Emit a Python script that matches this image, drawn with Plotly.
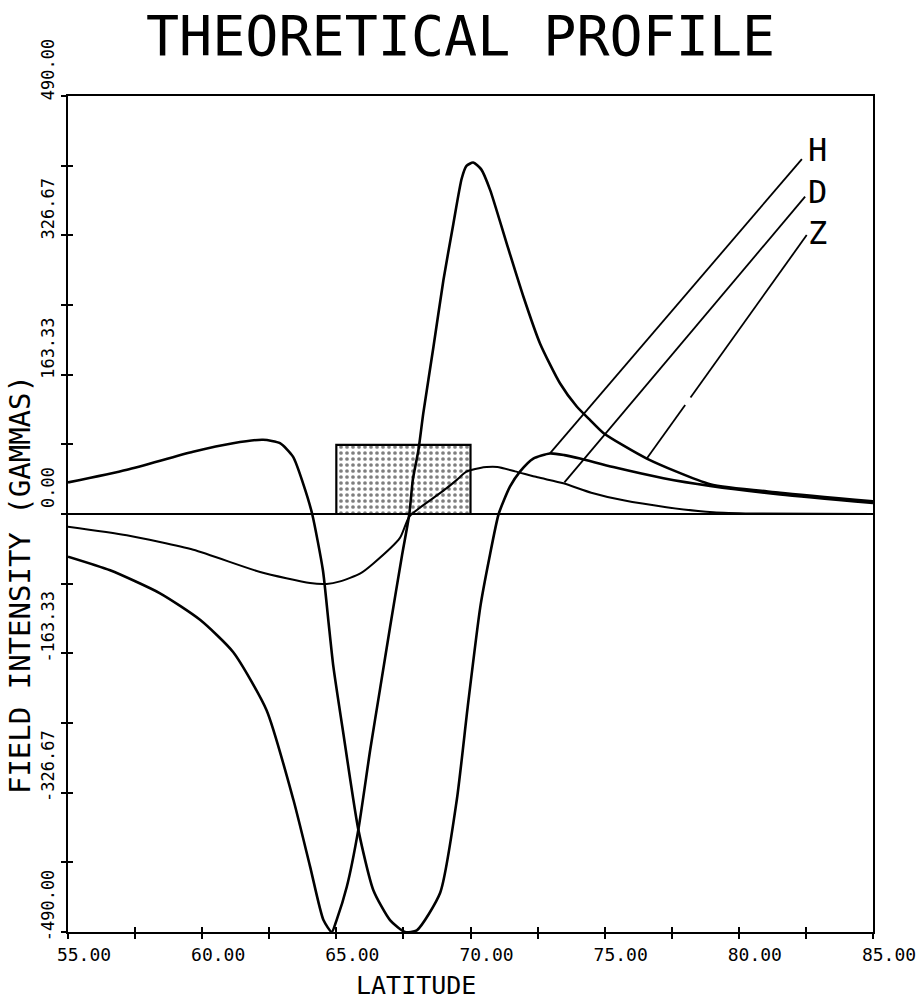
import plotly.graph_objects as go

# ---------------- data ----------------
# Z component (large positive peak near 70 deg)
lat_z = [55.0, 56.57, 58.43, 59.92, 61.16, 62.4, 63.4, 64.02, 64.52, 64.83, 65.01, 65.39,
         65.82, 66.26, 66.63, 67.0, 67.45, 67.72, 67.85, 68.06, 68.24, 68.62, 68.99, 69.36,
         69.67, 69.85, 70.1, 70.4, 70.73, 71.35, 71.97, 72.59, 73.34, 73.96, 74.46, 74.95,
         76.57, 78.93, 81.54, 85.0]
field_z = [-50, -66, -93, -124, -162, -230, -335, -413, -476, -490, -476, -437,
           -370, -277, -205, -133, -48, 0, 40, 75, 118, 196, 274, 340,
           393, 408, 412, 404, 380, 317, 255, 200, 153, 126, 110, 95,
           65, 35, 25, 15]

# H component (deep trough near 67.5 deg)
lat_h = [55.0, 57.2, 59.66, 61.15, 62.27, 62.9, 63.39, 63.76, 64.1, 64.5, 64.7, 64.89,
         65.26, 65.82, 66.38, 67.0, 67.56, 68.0, 68.87, 69.49, 69.9, 70.36, 70.7, 71.05,
         71.47, 71.85, 72.34, 72.96, 73.5, 74.08, 75.32, 77.19, 78.93, 81.54, 85.0]
field_h = [37, 52, 73, 83, 87, 83, 67, 36, 0, -66, -124, -179,
           -257, -370, -441, -476, -490, -488, -444, -335, -225, -110, -52, 0,
           32, 50, 65, 71, 69, 65, 55, 42, 33, 23, 13]

# D component (small amplitude)
lat_d = [55.0, 57.19, 59.67, 62.16, 64.02, 64.64, 65.14, 65.88, 66.38, 67.37, 67.72, 68.49,
         69.1, 69.49, 69.86, 70.36, 70.6, 71.0, 71.66, 72.5, 73.46, 74.5, 75.7, 77.3,
         79.05, 80.5, 85.0]
field_d = [-15, -25, -42, -68, -81, -82, -79, -70, -58, -28, -3, 16,
           30, 40, 50, 54, 55, 55, 50, 43, 36, 25, 16, 8,
           2, 0.5, 0]

# Source block (shaded rectangle)
block_lat = [65.0, 70.0]
block_top = 81

# Curve labels and their leader lines (label end -> curve end)
curve_labels = ["H", "D", "Z"]
label_lat = 82.95
label_field = 378
leader_labels = ["H", "D", "Z"]
leader_lat_start = [82.35, 82.47, 82.53]
leader_field_start = [416, 372, 327]
leader_lat_end = [72.96, 73.5, 76.57]
leader_field_end = [71, 37, 65]
z_leader_gap = [78.2, 78.0]   # small gap in the Z leader

# Axes
x_range = [55, 85]
y_range = [-490, 490]
x_tick_vals = [55, 60, 65, 70, 75, 80, 85]
x_tick_text = ["55.00", "60.00", "65.00", "70.00", "75.00", "80.00", "85.00"]
y_tick_vals = [-490, -326.67, -163.33, 0, 163.33, 326.67, 490]
y_tick_text = ["-490.00", "-326.67", "-163.33", "0.00", "163.33", "326.67", "490.00"]

# ---------------- figure ----------------
MONO = "DejaVu Sans Mono, Liberation Mono, monospace"
INK = "black"

fig = go.Figure()

# shaded block
bx = [block_lat[0], block_lat[1], block_lat[1], block_lat[0], block_lat[0]]
by = [0, 0, block_top, block_top, 0]
fig.add_trace(go.Scatter(
    x=bx, y=by, mode="lines", fill="toself", fillcolor="white",
    fillpattern=dict(shape=".", fgcolor=INK, bgcolor="white", size=6, solidity=0.3),
    line=dict(color=INK, width=2.2), hoverinfo="skip", showlegend=False))

# curves
for lat, fld, w in [(lat_d, field_d, 2.0), (lat_h, field_h, 2.6), (lat_z, field_z, 2.6)]:
    fig.add_trace(go.Scatter(x=lat, y=fld, mode="lines",
                             line=dict(color=INK, width=w, shape="spline", smoothing=0.6),
                             hoverinfo="skip", showlegend=False))

# leader lines
for i in range(3):
    xs = [leader_lat_start[i], leader_lat_end[i]]
    ys = [leader_field_start[i], leader_field_end[i]]
    if leader_labels[i] == "Z":
        slope = (ys[1] - ys[0]) / (xs[1] - xs[0])
        g0 = ys[0] + slope * (z_leader_gap[0] - xs[0])
        g1 = ys[0] + slope * (z_leader_gap[1] - xs[0])
        xs = [xs[0], z_leader_gap[0], None, z_leader_gap[1], xs[1]]
        ys = [ys[0], g0, None, g1, ys[1]]
    fig.add_trace(go.Scatter(x=xs, y=ys, mode="lines", line=dict(color=INK, width=1.8),
                             hoverinfo="skip", showlegend=False, connectgaps=False))

# invisible trace to activate the overlay axes (inner half of cross ticks)
fig.add_trace(go.Scatter(x=[x_range[0]], y=[y_range[0]], xaxis="x2", yaxis="y2",
                         mode="markers", marker=dict(opacity=0), hoverinfo="skip",
                         showlegend=False))

# stacked curve labels H / D / Z
fig.add_annotation(x=label_lat, y=label_field, text="<br>".join(curve_labels),
                   showarrow=False, font=dict(family=MONO, size=32, color=INK),
                   xanchor="center", yanchor="middle", align="center")

tick_font = dict(family=MONO, size=17, color=INK)
common = dict(showgrid=False, zeroline=False, color=INK)

fig.update_layout(
    width=920, height=999,
    margin=dict(l=68, r=47, t=96, b=67, autoexpand=False),
    paper_bgcolor="white", plot_bgcolor="white",
    showlegend=False,
    xaxis=dict(range=x_range, tickmode="array", tickvals=x_tick_vals, ticktext=x_tick_text,
               ticks="outside", ticklen=5, tickwidth=2, tickcolor=INK,
               showline=True, linecolor=INK, linewidth=2, mirror=True, automargin=False,
               ticklabelshift=16, tickfont=dict(family=MONO, size=18, color=INK),
               minor=dict(tick0=55, dtick=2.5, ticks="outside", ticklen=5, tickwidth=2,
                          tickcolor=INK),
               **common),
    yaxis=dict(range=y_range, tickmode="array", tickvals=y_tick_vals, ticktext=y_tick_text,
               ticks="outside", ticklen=5, tickwidth=2, tickcolor=INK,
               showline=True, linecolor=INK, linewidth=2, mirror=True, automargin=False,
               tickangle=-90, ticklabelshift=-24, tickfont=tick_font,
               minor=dict(tick0=-490, dtick=980 / 12, ticks="outside", ticklen=5,
                          tickwidth=2, tickcolor=INK),
               showgrid=False, color=INK,
               zeroline=True, zerolinecolor=INK, zerolinewidth=1.6),
    xaxis2=dict(range=x_range, overlaying="x", anchor="y2", side="bottom", automargin=False,
                tickmode="array", tickvals=x_tick_vals, ticks="inside", ticklen=5,
                tickwidth=2, tickcolor=INK, showticklabels=False, showline=False,
                minor=dict(tick0=55, dtick=2.5, ticks="inside", ticklen=5, tickwidth=2,
                           tickcolor=INK),
                **common),
    yaxis2=dict(range=y_range, overlaying="y", anchor="x2", side="left", automargin=False,
                tickmode="array", tickvals=y_tick_vals, ticks="inside", ticklen=5,
                tickwidth=2, tickcolor=INK, showticklabels=False, showline=False,
                minor=dict(tick0=-490, dtick=980 / 12, ticks="inside", ticklen=5,
                           tickwidth=2, tickcolor=INK),
                **common),
)

# title and axis titles
fig.add_annotation(xref="paper", yref="paper", x=0.487, y=1.0, yshift=60,
                   text="THEORETICAL PROFILE", showarrow=False,
                   font=dict(family=MONO, size=55, color=INK),
                   xanchor="center", yanchor="middle")
fig.add_annotation(xref="paper", yref="paper", x=0.432, y=0.0, yshift=-53,
                   text="LATITUDE", showarrow=False,
                   font=dict(family=MONO, size=25, color=INK),
                   xanchor="center", yanchor="middle")
fig.add_annotation(xref="paper", yref="paper", x=0.0, xshift=-48, y=0.415,
                   text="FIELD INTENSITY (GAMMAS)", showarrow=False, textangle=-90,
                   font=dict(family=MONO, size=29, color=INK),
                   xanchor="center", yanchor="middle")

fig.write_html("out.html")
